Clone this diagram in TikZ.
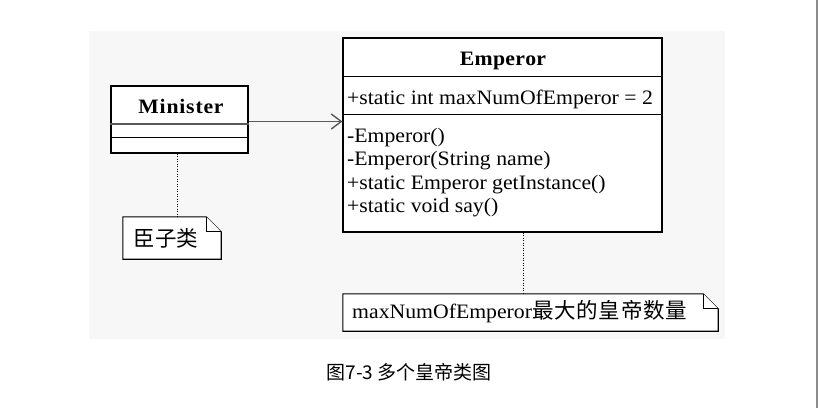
\documentclass[tikz,border=0pt]{standalone}
\usepackage{fontspec}
\setmainfont{Liberation Serif}[FakeStretch=1.06]
\newfontfamily\cjk{Noto Sans CJK SC}
\usetikzlibrary{arrows.meta,calc}
\newcommand\drawnote[1]{%
  \draw[noteline] (#1.north west) -- ($(#1.north east)+(-15,0)$) -- ($(#1.north east)+(0,15)$) -- (#1.south east) -- (#1.south west) -- cycle;
  \draw[noteline] ($(#1.north east)+(-15,0)$) -- ($(#1.north east)+(-15,15)$) -- ($(#1.north east)+(0,15)$);}
\begin{document}
\begin{tikzpicture}[x=1pt,y=-1pt,
  umlbox/.style={draw=black,line width=1.1pt,inner sep=0pt,fill=white},
  divider/.style={line width=1.1pt},
  txt/.style={inner sep=0pt,font=\fontsize{20.5}{23}\selectfont},
  cjktxt/.style={inner sep=0pt,font=\cjk\fontsize{21.5}{23}\selectfont},
  noteline/.style={line width=1.1pt,fill=white},
  notearea/.style={inner sep=0pt},
  assoc/.style={draw=black!65,line width=1.4pt,-{Straight Barb[length=10pt,width=15pt,line width=1.4pt]}},
  link/.style={draw=black,line width=1pt,dash pattern=on 1pt off 1.5pt}]
\useasboundingbox (0,0) rectangle (818,408);
\fill[white] (0,0) rectangle (818,408);
\fill[black!3] (89,31) rectangle (725,339);
\fill[black!45] (816,0) rectangle (818,408);
% Emperor class
\node[umlbox,minimum width=319pt,minimum height=194pt] (emp) at (502.5,135) {};
\draw[divider] ($(emp.north west)+(0,39)$) -- ($(emp.north east)+(0,39)$);
\draw[divider] ($(emp.north west)+(0,77)$) -- ($(emp.north east)+(0,77)$);
\node[txt,anchor=base] (empT) at (503,65) {\bfseries E\kern0.3pt m\kern0.3pt p\kern0.3pt e\kern0.3pt r\kern0.3pt o\kern0.3pt r};
\node[txt,anchor=base west] (a1) at (347,104) {+static int maxNumOfEmperor = 2};
\node[txt,anchor=base west] (m1) at (347,142) {-Emperor()};
\node[txt,anchor=base west] (m2) at (347,165.5) {-Emperor(String name)};
\node[txt,anchor=base west] (m3) at (347,189) {+static Emperor getInstance()};
\node[txt,anchor=base west] (m4) at (347,212.5) {+static void say()};
% Minister class
\node[umlbox,minimum width=137pt,minimum height=67pt] (min) at (179.5,119.5) {};
\draw[draw=black!65,line width=2pt] ($(min.north west)+(0,38.5)$) -- ($(min.north east)+(0,38.5)$);
\draw[divider] ($(min.north west)+(0,52)$) -- ($(min.north east)+(0,52)$);
\node[txt,anchor=base] (minT) at (181,113) {\bfseries M\kern0.8pt i\kern0.8pt n\kern0.8pt i\kern0.8pt s\kern0.8pt t\kern0.8pt e\kern0.8pt r};
% association
\draw[assoc] ($(min.east)+(0,2)$) -- ($(emp.west)+(0,-13.5)$);
% notes
\node[notearea,minimum width=98pt,minimum height=42pt] (n1) at (172,238) {};
\drawnote{n1}
\node[cjktxt,anchor=center] (n1T) at (166,238) {臣子类};
\node[notearea,minimum width=375pt,minimum height=37pt] (n2) at (530.5,312.5) {};
\drawnote{n2}
\node[txt,anchor=base west] (n2T) at (352,318) {maxNumOfEmperor{\cjk\fontsize{21.5}{23}\selectfont 最\kern0.8pt 大\kern0.8pt 的\kern0.8pt 皇\kern0.8pt 帝\kern0.8pt 数\kern0.8pt 量}};
% note links
\coordinate (l1) at ($(min.south)+(-2.5,0)$);
\coordinate (l2) at ($(emp.south)+(20.5,0)$);
\draw[link] (l1) -- (l1 |- n1.north);
\draw[link] (l2) -- (l2 |- n2.north);
% caption
\node[inner sep=0pt,font=\cjk\fontsize{19}{20}\selectfont] (cap) at (409,372) {图7-3 多个皇帝类图};
\end{tikzpicture}
\end{document}
